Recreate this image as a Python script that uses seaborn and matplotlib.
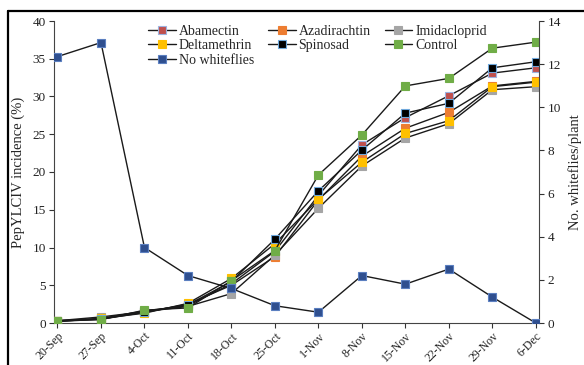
import matplotlib
matplotlib.use("Agg")
import matplotlib.pyplot as plt
from matplotlib.lines import Line2D
import seaborn as sns
import pandas as pd
import numpy as np

dates = ["20-Sep", "27-Sep", "4-Oct", "11-Oct", "18-Oct", "25-Oct", "1-Nov",
         "8-Nov", "15-Nov", "22-Nov", "29-Nov", "6-Dec"]
abamectin = [0.3, 0.6, 1.6, 2.3, 5.2, 9.5, 16.9, 23.6, 27.2, 30.1, 33.1, 33.8]
azadirachtin = [0.3, 0.5, 1.4, 2.5, 5.0, 8.8, 16.3, 22.1, 25.8, 27.9, 31.4, 32.0]
imidacloprid = [0.3, 0.8, 1.5, 2.2, 3.9, 9.0, 15.2, 20.8, 24.5, 26.4, 30.9, 31.3]
deltamethrin = [0.2, 0.6, 1.3, 2.6, 5.9, 10.5, 16.4, 21.3, 25.1, 26.8, 31.3, 31.9]
spinosad = [0.2, 0.5, 1.5, 2.4, 5.5, 11.1, 17.5, 22.9, 27.8, 29.1, 33.8, 34.6]
control = [0.3, 0.45, 1.7, 2.0, 5.6, 9.6, 19.6, 24.9, 31.4, 32.4, 36.4, 37.2]
no_whiteflies = [12.35, 13.0, 3.5, 2.2, 1.6, 0.8, 0.5, 2.2, 1.8, 2.5, 1.2, 0.0]

sns.set_theme(style="ticks")
plt.rcParams['font.family'] = ['Liberation Serif', 'DejaVu Serif']
plt.rcParams['axes.linewidth'] = 0.8

fig = plt.figure(figsize=(5.84, 3.65), dpi=100)
ax = fig.add_axes([54/584, 1-323/365, (539.3-54)/584, (323-21)/365])
ax2 = ax.twinx()

xpos = np.arange(len(dates))
series = [
    ("Abamectin", abamectin, "#C0504D", "#9DB3E0"),
    ("Azadirachtin", azadirachtin, "#ED7D31", "#ED7D31"),
    ("Imidacloprid", imidacloprid, "#A5A5A5", "#A5A5A5"),
    ("Deltamethrin", deltamethrin, "#FFC000", "#FFC000"),
    ("Spinosad", spinosad, "#000000", "#6FA8DC"),
    ("Control", control, "#70AD47", "#70AD47"),
]
handles = {}
for name, vals, fc, ec in series:
    df = pd.DataFrame({"x": xpos, "y": vals})
    sns.lineplot(data=df, x="x", y="y", ax=ax, color="#1a1a1a", lw=1.0,
                 marker="s", markersize=6, markerfacecolor=fc,
                 markeredgecolor=ec, markeredgewidth=0.8, zorder=3)
    handles[name] = Line2D([], [], color="#1a1a1a", lw=1.0, marker="s",
                           markersize=6, markerfacecolor=fc, markeredgecolor=ec,
                           markeredgewidth=0.8)

dfn = pd.DataFrame({"x": xpos, "y": no_whiteflies})
sns.lineplot(data=dfn, x="x", y="y", ax=ax2, color="#1a1a1a", lw=1.0,
             marker="s", markersize=6, markerfacecolor="#2F4F8F",
             markeredgecolor="#5B7FC0", markeredgewidth=0.8, zorder=3)
handles["No whiteflies"] = Line2D([], [], color="#1a1a1a", lw=1.0, marker="s",
                                  markersize=6, markerfacecolor="#2F4F8F",
                                  markeredgecolor="#5B7FC0", markeredgewidth=0.8)

ax.set_xlim(-0.08, 11.08)
ax.set_ylim(0, 40)
ax2.set_ylim(0, 14)
ax.set_yticks(range(0, 41, 5))
ax2.set_yticks(range(0, 15, 2))
ax.set_xticks(xpos)
ax.set_xticklabels(dates, rotation=45, ha="right", rotation_mode="anchor")
ax.set_xlabel("")
ax.set_ylabel("PepYLCIV incidence (%)", fontsize=10.5, labelpad=5)
ax2.set_ylabel("No. whiteflies/plant", fontsize=10.5, labelpad=5)
ax2.set_xlabel("")

for a in (ax, ax2):
    a.tick_params(labelsize=9.5, length=3.5, width=0.8, colors="#333333",
                  labelcolor="#222222", pad=2.5)
    a.spines["top"].set_visible(False)
    for s in ("left", "right", "bottom"):
        a.spines[s].set_color("#444444")
ax.tick_params(axis="x", labelsize=8.5, pad=1.5)
ax.spines["right"].set_visible(False)
ax2.spines["left"].set_visible(False)
ax2.spines["bottom"].set_visible(False)

order = ["Abamectin", "Deltamethrin", "No whiteflies", "Azadirachtin",
         "Spinosad", "Imidacloprid", "Control"]
leg = ax.legend([handles[n] for n in order], order, ncol=3, loc="upper left",
                bbox_to_anchor=(0.18, 1.01), frameon=False, fontsize=10,
                handlelength=2.0, handletextpad=0.2, columnspacing=1.0,
                labelspacing=0.1, borderpad=0.0)
leg.set_zorder(10)

fig.add_artist(Line2D([8/584, 8/584], [0, 1-11/365], transform=fig.transFigure,
                      color="black", lw=1.6))
fig.add_artist(Line2D([8/584, 1], [1-11/365, 1-11/365], transform=fig.transFigure,
                      color="black", lw=1.6))

fig.savefig("out.png", dpi=100)
